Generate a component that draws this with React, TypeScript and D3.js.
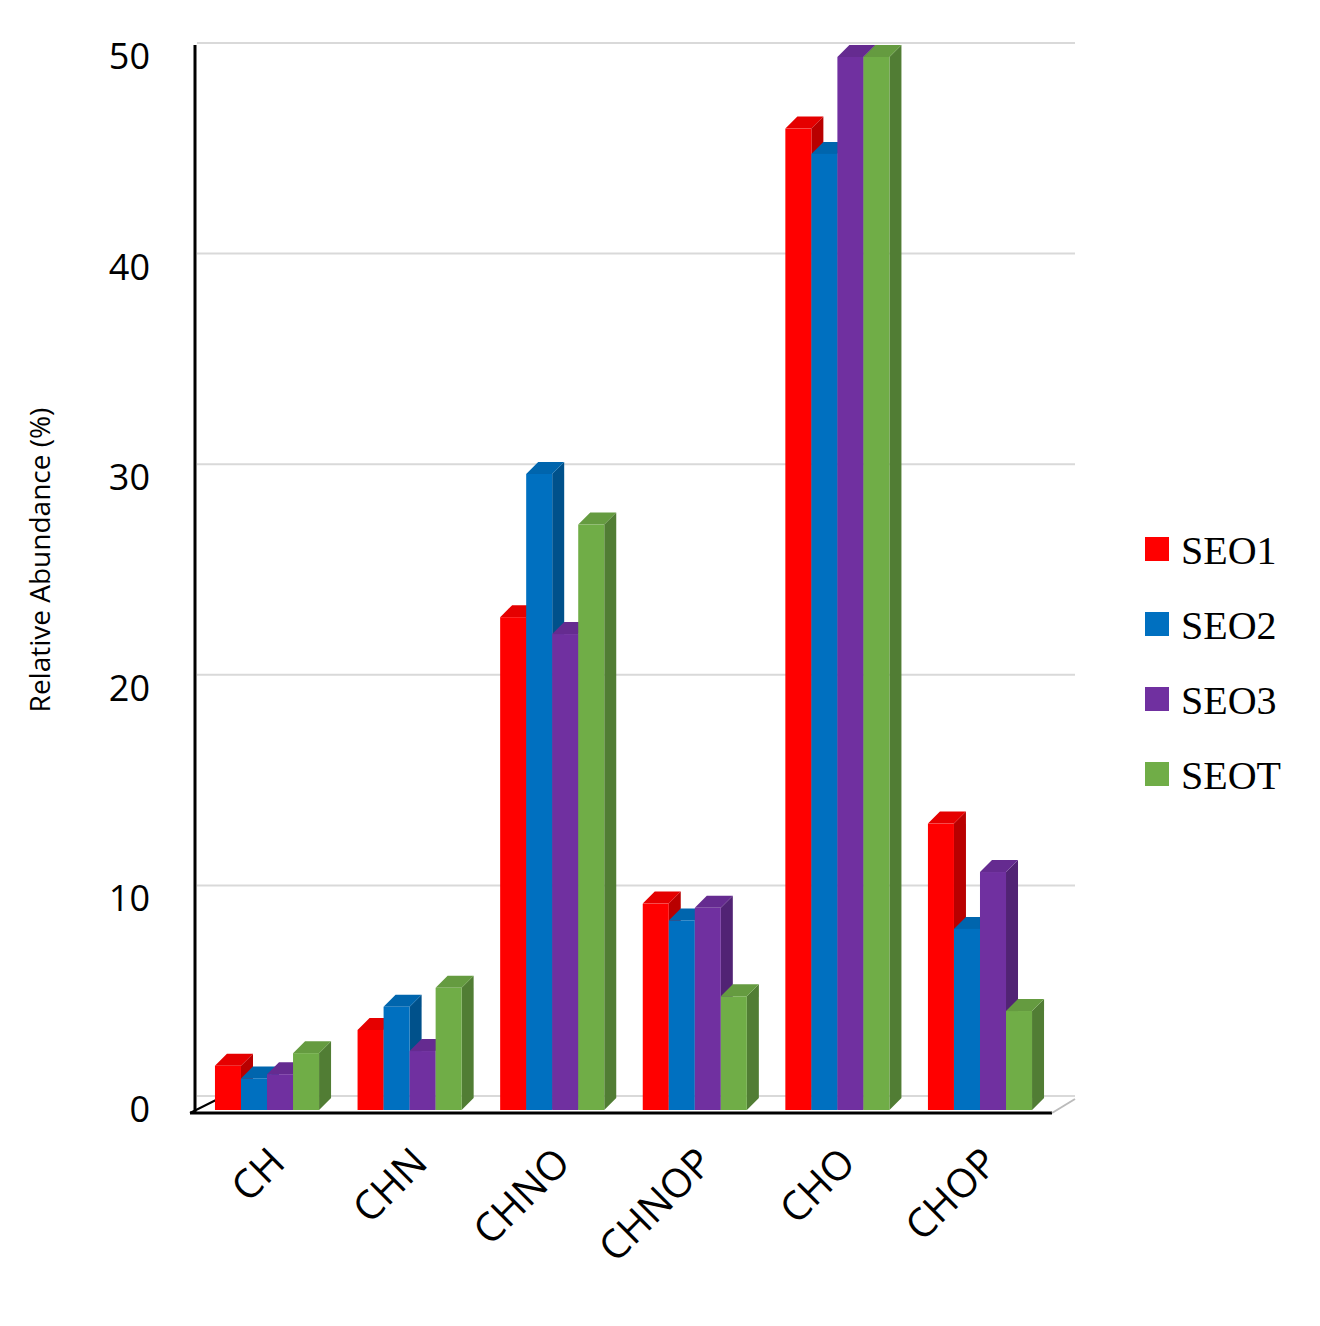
import React from "react";
import * as d3 from "d3";

const categories = ["CH", "CHN", "CHNO", "CHNOP", "CHO", "CHOP"];
const seriesNames = ["SEO1", "SEO2", "SEO3", "SEOT"];
const seriesColors = ["#ff0000", "#0070c0", "#7030a0", "#70ad47"];
const values = [
  [2.1, 3.8, 23.4, 9.8, 46.6, 13.6],
  [1.5, 4.9, 30.2, 9.0, 45.4, 8.6],
  [1.7, 2.8, 22.6, 9.6, 50, 11.3],
  [2.7, 5.8, 27.8, 5.4, 50, 4.7],
];
const yTicks = [0, 10, 20, 30, 40, 50];

const W = 1320, H = 1326;
const left = 195, right = 1052, top = 57, bottom = 1110;
const dx = 12, dy = -12; // bar depth
const wx = 23, wy = -14; // wall depth

export default function App() {
  const y = d3.scaleLinear().domain([0, 50]).range([bottom, top]);
  const x0 = d3.scaleBand<string>().domain(categories).range([left, right]).paddingInner(0.27).paddingOuter(0.14);
  const x1 = d3.scaleBand<string>().domain(seriesNames).range([0, x0.bandwidth()]);
  const bw = x1.bandwidth();

  return (
    <svg width={W} height={H} style={{ display: "block", margin: -8 }}>
      <rect width={W} height={H} fill="#fff" />
      {yTicks.map((t) => (
        <line key={t} x1={left + 2} x2={right + wx} y1={y(t) + wy} y2={y(t) + wy} stroke="#d9d9d9" strokeWidth={2} />
      ))}
      <line x1={left} x2={left} y1={y(50) - 12} y2={bottom + 3} stroke="#000" strokeWidth={3} />
      <line x1={left - 5} x2={right} y1={bottom + 3} y2={bottom + 3} stroke="#000" strokeWidth={3} />
      <line x1={right} x2={right + wx} y1={bottom + 3} y2={bottom + 3 + wy} stroke="#bbb" strokeWidth={2} />
      <line x1={left - 5} x2={left + wx} y1={bottom + 3} y2={bottom + 3 + wy} stroke="#000" strokeWidth={2} />
      {categories.map((c, ci) => (
        <g key={c}>
          {seriesNames.map((s, si) => {
            const v = values[si][ci];
            const xl = x0(c)! + x1(s)!;
            const xr = xl + bw;
            const yt = y(v);
            const col = seriesColors[si];
            const dark = d3.color(col)!.darker(0.9).toString();
            const light = d3.color(col)!.darker(0.3).toString();
            return (
              <g key={s}>
                <polygon points={`${xr},${yt} ${xr + dx},${yt + dy} ${xr + dx},${bottom + dy} ${xr},${bottom}`} fill={dark} />
                <polygon points={`${xl},${yt} ${xl + dx},${yt + dy} ${xr + dx},${yt + dy} ${xr},${yt}`} fill={light} />
                <rect x={xl} y={yt} width={bw} height={bottom - yt} fill={col} />
              </g>
            );
          })}
          <text
            transform={`translate(${x0(c)! + x0.bandwidth() / 2 + 20},${bottom + 55}) rotate(-45)`}
            textAnchor="end"
            fontFamily="Open Sans"
            fontSize={40}
          >
            {c}
          </text>
        </g>
      ))}
      {yTicks.map((t) => (
        <text key={t} x={150} y={y(t) + 12} textAnchor="end" fontFamily="Open Sans" fontSize={36}>
          {t}
        </text>
      ))}
      <text transform="translate(50,560) rotate(-90)" textAnchor="middle" fontFamily="Open Sans" fontSize={28}>
        Relative Abundance (%)
      </text>
      {seriesNames.map((s, i) => (
        <g key={s} transform={`translate(1145,${550 + i * 75})`}>
          <rect x={0} y={-13} width={24} height={24} fill={seriesColors[i]} />
          <text x={36} y={14} fontFamily="Liberation Serif" fontSize={40}>
            {s}
          </text>
        </g>
      ))}
    </svg>
  );
}
